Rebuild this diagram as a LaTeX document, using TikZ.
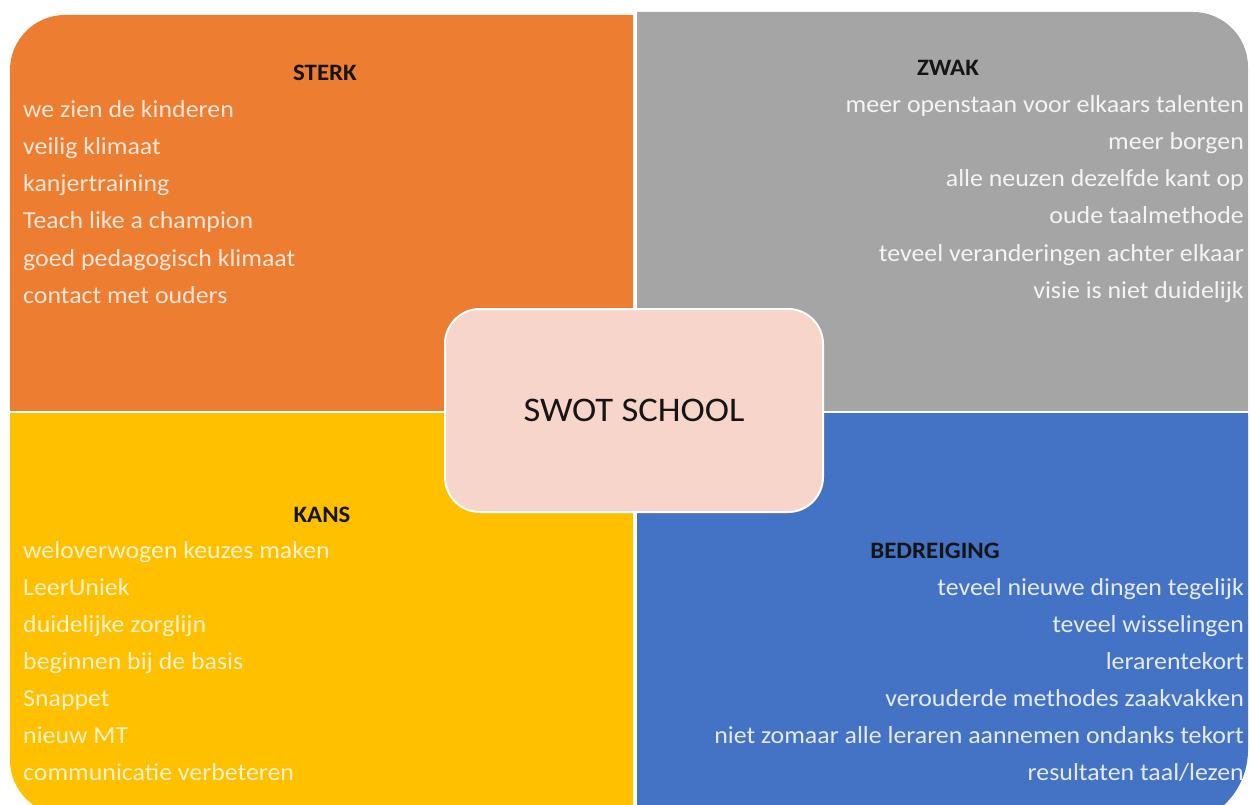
\documentclass[tikz,border=0pt]{standalone}
\usepackage{fontspec}
\setmainfont{Carlito}[FakeStretch=1.06]
\definecolor{qorange}{HTML}{ED7D31}
\definecolor{qgray}{HTML}{A5A5A5}
\definecolor{qyellow}{HTML}{FFC000}
\definecolor{qblue}{HTML}{4472C4}
\definecolor{qpink}{HTML}{F8D5CB}
\definecolor{torange}{HTML}{FCE6D8}
\definecolor{tgray}{HTML}{F4F4F4}
\definecolor{tyellow}{HTML}{FFF2CC}
\definecolor{tblue}{HTML}{E4EBF6}
\definecolor{thead}{HTML}{151515}
\tikzset{
  item/.style={inner sep=0pt, font=\fontsize{24.4}{28}\selectfont},
  itemL/.style={item, anchor=base west},
  itemR/.style={item, anchor=base east},
  head/.style={inner sep=0pt, anchor=base, text=thead, font=\fontsize{23.5}{27}\selectfont\bfseries},
  centerbox/.style={draw=white, line width=2pt, fill=qpink, rounded corners=35pt,
    minimum width=378pt, minimum height=203pt, inner sep=0pt, text=thead,
    font=\fontsize{34.5}{40}\selectfont}
}
\begin{document}
\begin{tikzpicture}[x=1pt,y=-1pt]
\useasboundingbox (0,0) rectangle (1250,805);
\clip (0,0) rectangle (1250,805);
% quadrants
\begin{scope}
  \clip (10,15) rectangle (633,410);
  \fill[qorange, rounded corners=55pt] (10,15) rectangle (800,600);
\end{scope}
\begin{scope}
  \clip (637,12) rectangle (1248,410);
  \fill[qgray, rounded corners=55pt] (400,12) rectangle (1248,600);
\end{scope}
\begin{scope}
  \clip (10,413) rectangle (633,805);
  \fill[qyellow, rounded corners=55pt] (10,200) rectangle (800,815);
\end{scope}
\begin{scope}
  \clip (637,413) rectangle (1248,805);
  \fill[qblue, rounded corners=75pt] (400,200) rectangle (1248,825);
\end{scope}
% center
\node[centerbox] (swot) at (634,410.5) {SWOT SCHOOL};
% STERK
\node[head] (hs) at (325,81) {STERK};
\begin{scope}[every node/.style={itemL, text=torange}]
\node (s1) at (23,118) {we zien de kinderen};
\node (s2) at (23,155) {veilig klimaat};
\node (s3) at (23,192) {kanjertraining};
\node (s4) at (23,229) {Teach like a champion};
\node (s5) at (23,266) {goed pedagogisch klimaat};
\node (s6) at (23,303) {contact met ouders};
\end{scope}
% ZWAK
\node[head] (hz) at (948,76) {ZWAK};
\begin{scope}[every node/.style={itemR, text=tgray}]
\node (z1) at (1244,113) {meer openstaan voor elkaars talenten};
\node (z2) at (1244,150) {meer borgen};
\node (z3) at (1244,187) {alle neuzen dezelfde kant op};
\node (z4) at (1244,224) {oude taalmethode};
\node (z5) at (1244,261) {teveel veranderingen achter elkaar};
\node (z6) at (1244,298) {visie is niet duidelijk};
\end{scope}
% KANS
\node[head] (hk) at (322,522) {KANS};
\begin{scope}[every node/.style={itemL, text=tyellow}]
\node (k1) at (23,558) {weloverwogen keuzes maken};
\node (k2) at (23,595) {LeerUniek};
\node (k3) at (23,632) {duidelijke zorglijn};
\node (k4) at (23,669) {beginnen bij de basis};
\node (k5) at (23,706) {Snappet};
\node (k6) at (23,743) {nieuw MT};
\node (k7) at (23,780) {communicatie verbeteren};
\end{scope}
% BEDREIGING
\node[head] (hb) at (935,558) {BEDREIGING};
\begin{scope}[every node/.style={itemR, text=tblue}]
\node (b1) at (1244,595) {teveel nieuwe dingen tegelijk};
\node (b2) at (1244,632) {teveel wisselingen};
\node (b3) at (1244,669) {lerarentekort};
\node (b4) at (1244,706) {verouderde methodes zaakvakken};
\node (b5) at (1244,743) {niet zomaar alle leraren aannemen ondanks tekort};
\node (b6) at (1244,780) {resultaten taal/lezen};
\end{scope}
\end{tikzpicture}
\end{document}
